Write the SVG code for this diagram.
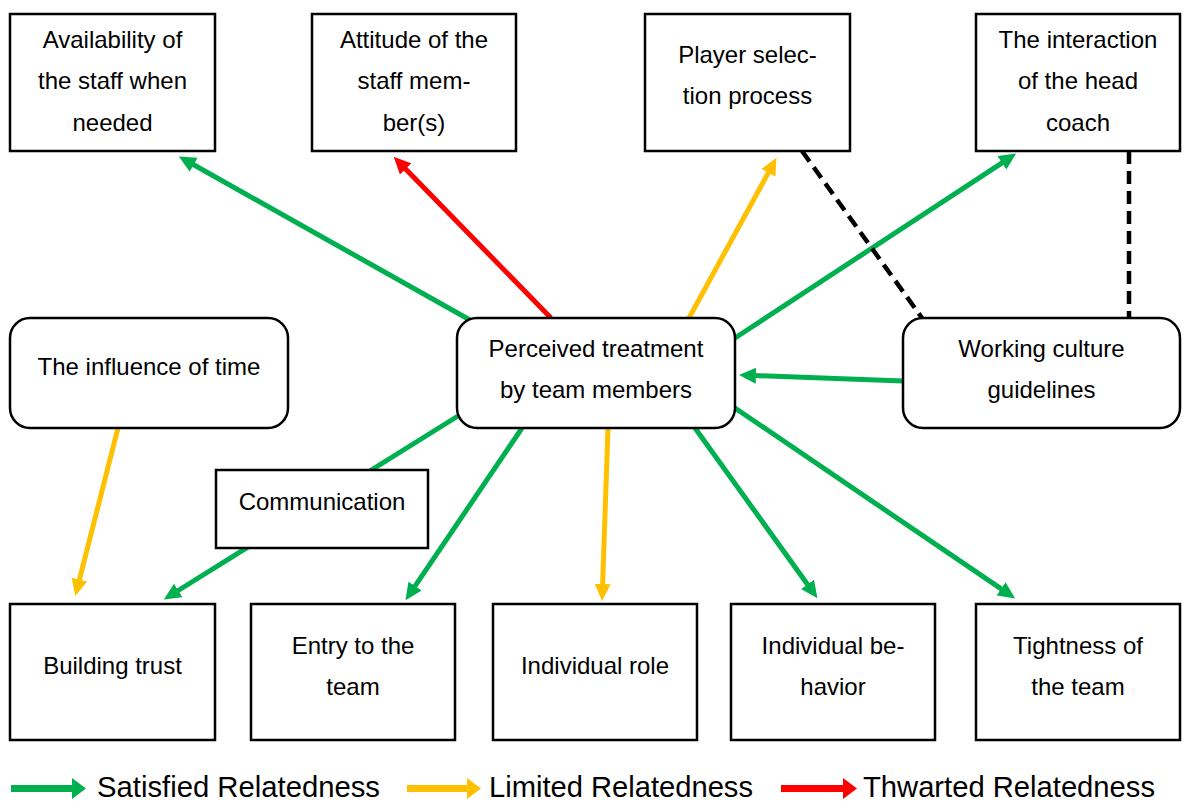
<svg xmlns="http://www.w3.org/2000/svg" width="1184" height="802" viewBox="0 0 1184 802">
  <style>
    .box { fill: #ffffff; stroke: #000000; stroke-width: 2.5; }
    .lbl { font-family: "Liberation Sans", Arial, sans-serif; font-size: 24px; fill: #000000; text-anchor: middle; }
    .leg { font-family: "Liberation Sans", Arial, sans-serif; font-size: 29px; fill: #000000; }
    .sat { stroke: #00B050; stroke-width: 5; fill: none; marker-end: url(#headSat); }
    .lim { stroke: #FFC000; stroke-width: 5; fill: none; marker-end: url(#headLim); }
    .thw { stroke: #FF0000; stroke-width: 5; fill: none; marker-end: url(#headThw); }
    .dash { stroke: #000000; stroke-width: 4.5; stroke-dasharray: 13 7; fill: none; }
  </style>
  <defs>
    <marker id="headSat" viewBox="0 0 17 16" refX="1" refY="8" markerWidth="17" markerHeight="16" markerUnits="userSpaceOnUse" orient="auto">
      <path d="M0,0 L17,8 L0,16 z" fill="#00B050"/>
    </marker>
    <marker id="headLim" viewBox="0 0 17 16" refX="1" refY="8" markerWidth="17" markerHeight="16" markerUnits="userSpaceOnUse" orient="auto">
      <path d="M0,0 L17,8 L0,16 z" fill="#FFC000"/>
    </marker>
    <marker id="headThw" viewBox="0 0 17 16" refX="1" refY="8" markerWidth="17" markerHeight="16" markerUnits="userSpaceOnUse" orient="auto">
      <path d="M0,0 L17,8 L0,16 z" fill="#FF0000"/>
    </marker>
  </defs>

  <rect width="1184" height="802" fill="#ffffff"/>

  <!-- connectors -->
  <g id="connectors">
    <line class="sat" x1="470" y1="320" x2="192.8" y2="164.3"/>
    <line class="thw" x1="551" y1="318" x2="404.9" y2="168.2"/>
    <line class="lim" x1="689" y1="318" x2="768.8" y2="171.9"/>
    <line class="sat" x1="735" y1="338" x2="1002.8" y2="162.3"/>
    <line class="dash" x1="802" y1="151" x2="922" y2="318"/>
    <line class="dash" x1="1129" y1="151" x2="1129" y2="318"/>
    <line class="sat" x1="903" y1="381" x2="755" y2="375.6"/>
    <line class="sat" x1="458" y1="416" x2="177.4" y2="591"/>
    <line class="sat" x1="522" y1="428" x2="414.5" y2="586.9"/>
    <line class="lim" x1="608" y1="428" x2="602.6" y2="585"/>
    <line class="sat" x1="695" y1="428" x2="808.1" y2="585.2"/>
    <line class="sat" x1="735" y1="408" x2="1001.9" y2="589.4"/>
    <line class="lim" x1="118" y1="428" x2="79.2" y2="580.5"/>
  </g>

  <!-- top row -->
  <g id="availability">
    <rect class="box" x="10" y="14" width="205" height="137"/>
    <text class="lbl" x="112.5" y="48">Availability of</text>
    <text class="lbl" x="112.5" y="89">the staff when</text>
    <text class="lbl" x="112.5" y="131">needed</text>
  </g>
  <g id="attitude">
    <rect class="box" x="312" y="14" width="204" height="137"/>
    <text class="lbl" x="414" y="48">Attitude of the</text>
    <text class="lbl" x="414" y="89">staff mem-</text>
    <text class="lbl" x="414" y="131">ber(s)</text>
  </g>
  <g id="player-selection">
    <rect class="box" x="645" y="14" width="205" height="137"/>
    <text class="lbl" x="747.5" y="63">Player selec-</text>
    <text class="lbl" x="747.5" y="104">tion process</text>
  </g>
  <g id="head-coach">
    <rect class="box" x="976" y="14" width="204" height="137"/>
    <text class="lbl" x="1078" y="48">The interaction</text>
    <text class="lbl" x="1078" y="89">of the head</text>
    <text class="lbl" x="1078" y="131">coach</text>
  </g>

  <!-- middle row -->
  <g id="influence-of-time">
    <rect class="box" x="10" y="318" width="278" height="110" rx="20" ry="20"/>
    <text class="lbl" x="149" y="375">The influence of time</text>
  </g>
  <g id="perceived-treatment">
    <rect class="box" x="457" y="318" width="278" height="110" rx="20" ry="20"/>
    <text class="lbl" x="596" y="357">Perceived treatment</text>
    <text class="lbl" x="596" y="398">by team members</text>
  </g>
  <g id="working-culture">
    <rect class="box" x="903" y="318" width="277" height="110" rx="20" ry="20"/>
    <text class="lbl" x="1041.5" y="357">Working culture</text>
    <text class="lbl" x="1041.5" y="398">guidelines</text>
  </g>
  <g id="communication">
    <rect class="box" x="216" y="470" width="212" height="78"/>
    <text class="lbl" x="322" y="510">Communication</text>
  </g>

  <!-- bottom row -->
  <g id="building-trust">
    <rect class="box" x="10" y="604" width="205" height="136"/>
    <text class="lbl" x="112.5" y="674">Building trust</text>
  </g>
  <g id="entry-to-team">
    <rect class="box" x="251" y="604" width="204" height="136"/>
    <text class="lbl" x="353" y="654">Entry to the</text>
    <text class="lbl" x="353" y="695">team</text>
  </g>
  <g id="individual-role">
    <rect class="box" x="493" y="604" width="204" height="136"/>
    <text class="lbl" x="595" y="674">Individual role</text>
  </g>
  <g id="individual-behavior">
    <rect class="box" x="731" y="604" width="204" height="136"/>
    <text class="lbl" x="833" y="654">Individual be-</text>
    <text class="lbl" x="833" y="695">havior</text>
  </g>
  <g id="tightness">
    <rect class="box" x="976" y="604" width="204" height="136"/>
    <text class="lbl" x="1078" y="654">Tightness of</text>
    <text class="lbl" x="1078" y="695">the team</text>
  </g>

  <!-- legend -->
  <g id="legend">
    <rect x="11" y="785" width="62" height="7" fill="#00B050"/>
    <polygon points="72,778 86,788.5 72,799" fill="#00B050"/>
    <text class="leg" x="97" y="797" textLength="283" lengthAdjust="spacingAndGlyphs">Satisfied Relatedness</text>
    <rect x="407" y="785" width="61" height="7" fill="#FFC000"/>
    <polygon points="467,778 481,788.5 467,799" fill="#FFC000"/>
    <text class="leg" x="489" y="797" textLength="264" lengthAdjust="spacingAndGlyphs">Limited Relatedness</text>
    <rect x="781" y="785" width="63" height="7" fill="#FF0000"/>
    <polygon points="843,778 857,788.5 843,799" fill="#FF0000"/>
    <text class="leg" x="863" y="797" textLength="292" lengthAdjust="spacingAndGlyphs">Thwarted Relatedness</text>
  </g>
</svg>
